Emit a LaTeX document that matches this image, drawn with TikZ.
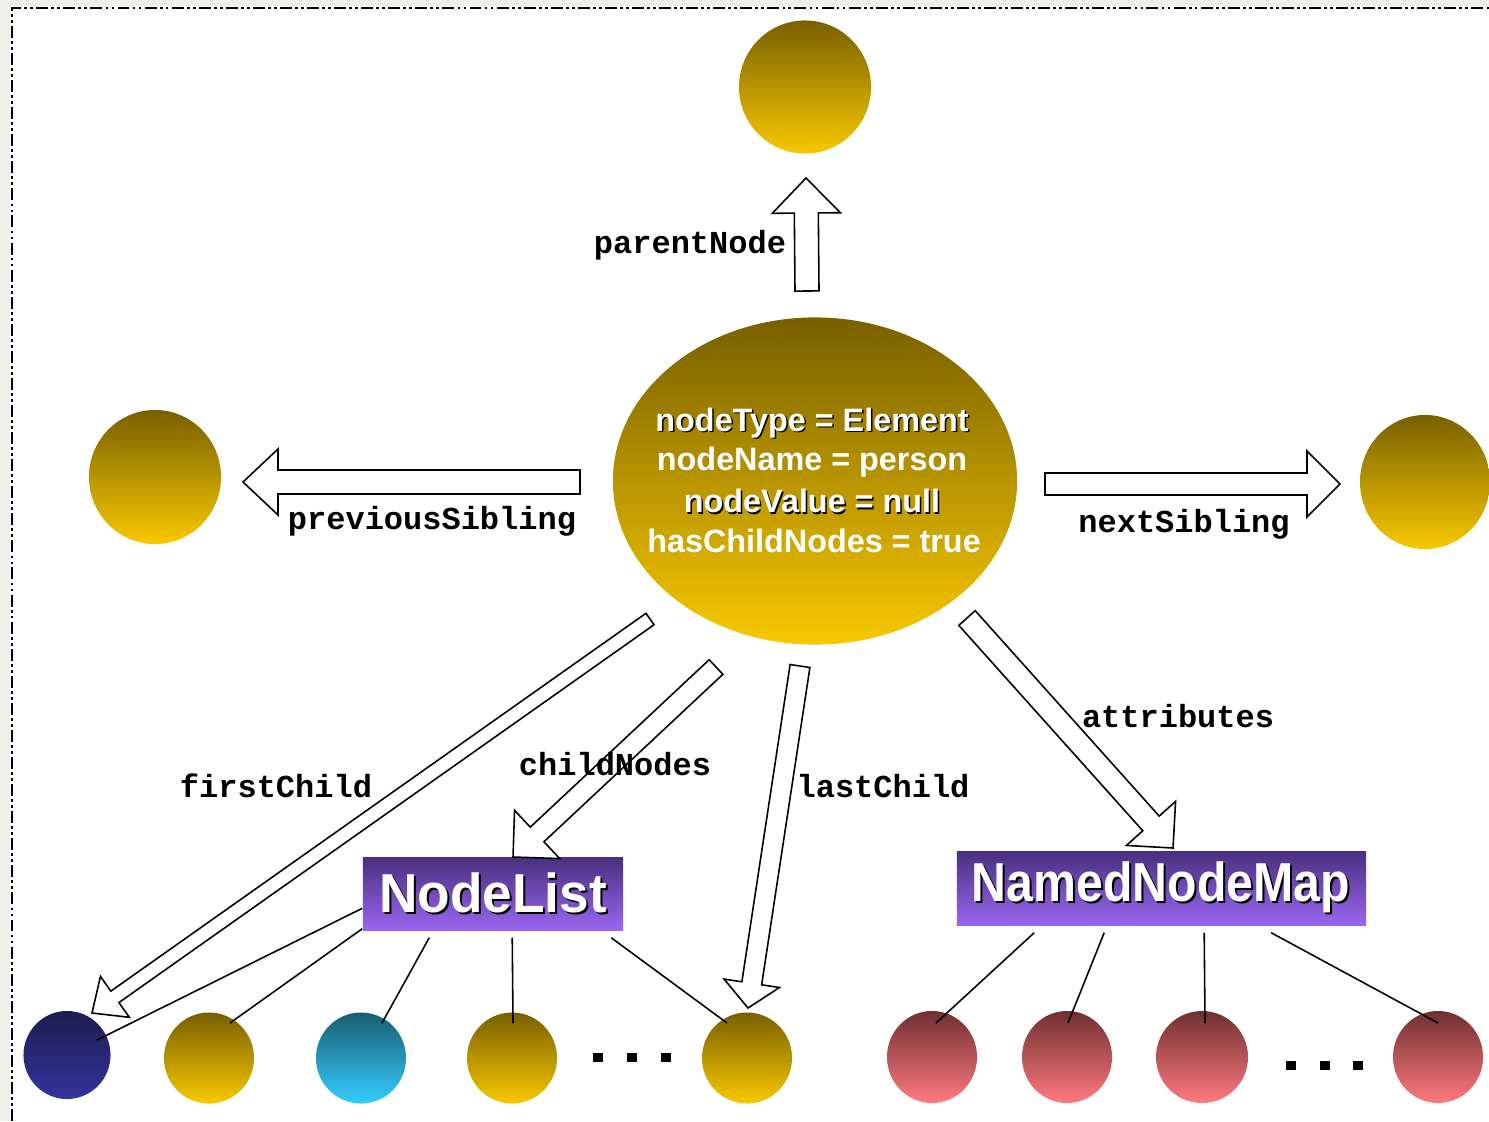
\documentclass[tikz,border=0pt]{standalone}
\usepackage{fontspec}
\setmainfont{Liberation Sans}
\newfontfamily\tagfont{Liberation Mono}
\usetikzlibrary{shapes.geometric,calc}

\definecolor{goldtop}{HTML}{786000}
\definecolor{goldbot}{HTML}{F8C800}
\definecolor{navytop}{HTML}{1C1C50}
\definecolor{navybot}{HTML}{34349C}
\definecolor{cyantop}{HTML}{1A5E72}
\definecolor{cyanbot}{HTML}{33CCFF}
\definecolor{rosetop}{HTML}{703030}
\definecolor{rosebot}{HTML}{FF7A80}
\definecolor{violettop}{HTML}{4A3080}
\definecolor{violetbot}{HTML}{9A66F0}
\definecolor{framegrey}{HTML}{EEF0EA}

% hollow block arrow: tail, tip, half shaft width, half head width, head length
\newcommand\hollowarrow[5]{%
  \coordinate (hb) at ($(#2)!#5!(#1)$);
  \draw[hollow] ($(#1)!#3!90:(#2)$) -- ($(hb)!#3!90:(#2)$) -- ($(hb)!#4!90:(#2)$)
    -- (#2) -- ($(hb)!#4!-90:(#2)$) -- ($(hb)!#3!-90:(#2)$) -- ($(#1)!#3!-90:(#2)$) -- cycle;
}

\begin{document}
\begin{tikzpicture}[x=0.01cm, y=-0.01cm,
  ball/.style={ellipse, inner sep=0pt, draw=none},
  gold/.style={ball, top color=goldtop, bottom color=goldbot},
  navy/.style={ball, top color=navytop, bottom color=navybot},
  teal/.style={ball, top color=cyantop, bottom color=cyanbot},
  rose/.style={ball, top color=rosetop, bottom color=rosebot},
  small/.style={minimum width=0.9cm, minimum height=0.91cm},
  big/.style={minimum width=1.32cm, minimum height=1.33cm},
  hollow/.style={draw=black, fill=white, line width=0.45pt, line join=miter},
  link/.style={draw=black, line width=0.45pt},
  tag/.style={font=\tagfont\bfseries\fontsize{9.1pt}{10pt}\selectfont, inner sep=0pt},
  info/.style={font=\bfseries\fontsize{9.2pt}{11pt}\selectfont, text=white, inner sep=0pt},
  infoshadow/.style={info, text=black},
  classbox/.style={rectangle, inner sep=0pt, top color=violettop, bottom color=violetbot},
  classtext/.style={font=\bfseries\fontsize{15.6pt}{16pt}\selectfont, text=white, inner sep=0pt},
  classshadow/.style={classtext, text=black},
  dotsq/.style={rectangle, fill=black, inner sep=0pt, minimum width=0.1cm, minimum height=0.09cm},
  border/.style={draw=black, line width=0.6pt,
    dash pattern=on 3.4pt off 0.9pt on 0.8pt off 0.9pt on 0.8pt off 0.9pt}
]
\useasboundingbox (0,0) rectangle (1489,1121);

% frame
\fill[framegrey] (0,0) rectangle (1489,6);
\fill[framegrey] (0,0) rectangle (10,1121);
\draw[border] (12,1121) -- (12,8) -- (1489,8);

% the element and its neighbours
\node[gold, big] (parent) at (805,87) {};
\node[gold, big, minimum height=1.34cm] (prev) at (155,477) {};
\node[gold, minimum width=1.30cm, minimum height=1.34cm] (next) at (1425,482) {};
\node[gold, minimum width=4.04cm, minimum height=3.27cm] (elem) at (815,481) {};

% children
\node[navy, minimum width=0.87cm, minimum height=0.88cm] (c1) at (67,1055) {};
\node[gold, small] (c2) at (209,1058) {};
\node[teal, small] (c3) at (361,1058) {};
\node[gold, small] (c4) at (512,1058) {};
\node[gold, small] (c6) at (747,1058) {};
\node[dotsq] (cd1) at (598,1057) {};
\node[dotsq] (cd2) at (632,1057) {};
\node[dotsq] (cd3) at (666,1057) {};

% attributes
\node[rose, small, minimum height=0.92cm] (a1) at (932,1057) {};
\node[rose, small, minimum height=0.92cm] (a2) at (1067,1057) {};
\node[rose, minimum width=0.92cm, minimum height=0.92cm] (a3) at (1202,1057) {};
\node[rose, small, minimum height=0.92cm] (a4) at (1438,1057) {};
\node[dotsq] (ad1) at (1291,1065) {};
\node[dotsq] (ad2) at (1325,1065) {};
\node[dotsq] (ad3) at (1358,1065) {};

% collection boxes
\node[classbox, minimum width=2.60cm, minimum height=0.72cm] (nodelist) at (493,894) {};
\node[classbox, minimum width=4.09cm, minimum height=0.73cm] (nnmap) at (1161.5,888.5) {};
\node[classshadow] (nodelistsh) at (495,895) {\scalebox{0.97}[1]{NodeList}};
\node[classtext] (nodelisttxt) at (493,893) {\scalebox{0.97}[1]{NodeList}};
\node[classshadow] (nnmapsh) at (1163,889) {\scalebox{0.88}[1]{NamedNodeMap}};
\node[classtext] (nnmaptxt) at (1161,887) {\scalebox{0.88}[1]{NamedNodeMap}};

% members of the lists
\draw[link] ($(nodelist.north west)+(0,51)$) -- ($(c1.center)+(30,-15)$);
\draw[link] ($(nodelist.south west)+(0,-2)$) -- ($(c2.center)+(21,-35)$);
\draw[link] ($(nodelist.south west)+(67,7)$) -- ($(c3.center)+(21,-35)$);
\draw[link] ($(nodelist.south west)+(150,7)$) -- ($(c4.center)+(1,-35)$);
\draw[link] ($(nodelist.south west)+(249,7)$) -- ($(c6.center)+(-20,-35)$);
\draw[link] ($(nnmap.south west)+(78,7)$) -- ($(a1.center)+(4,-34)$);
\draw[link] ($(nnmap.south west)+(148,7)$) -- ($(a2.center)+(1,-34)$);
\draw[link] ($(nnmap.south west)+(248,7)$) -- ($(a3.center)+(3,-34)$);
\draw[link] ($(nnmap.south west)+(315,7)$) -- ($(a4.center)+(0,-34)$);

% navigation arrows
\coordinate (pn-tail) at (807,291);   \coordinate (pn-tip) at (806,178);
\coordinate (ps-tail) at (580,482);   \coordinate (ps-tip) at (243,482);
\coordinate (ns-tail) at (1045,484);  \coordinate (ns-tip) at (1340,484);
\coordinate (fc-tail) at (650,619);   \coordinate (fc-tip) at (92,1013);
\coordinate (cn-tail) at (716,667);   \coordinate (cn-tip) at (513,857);
\coordinate (lc-tail) at (800,666);   \coordinate (lc-tip) at (748,1008);
\coordinate (at-tail) at (967,618);   \coordinate (at-tip) at (1173,848);

\hollowarrow{pn-tail}{pn-tip}{0.12cm}{0.34cm}{0.35cm}
\hollowarrow{ps-tail}{ps-tip}{0.12cm}{0.33cm}{0.35cm}
\hollowarrow{ns-tail}{ns-tip}{0.11cm}{0.33cm}{0.33cm}
\hollowarrow{fc-tail}{fc-tip}{0.07cm}{0.25cm}{0.28cm}
\hollowarrow{cn-tail}{cn-tip}{0.10cm}{0.33cm}{0.33cm}
\hollowarrow{lc-tail}{lc-tip}{0.10cm}{0.28cm}{0.25cm}
\hollowarrow{at-tail}{at-tip}{0.11cm}{0.33cm}{0.33cm}

% arrow labels
\node[tag] (pnlabel) at (690,245) {parentNode};
\node[tag] (pslabel) at (432,521) {previousSibling};
\node[tag] (nslabel) at (1184,524) {nextSibling};
\node[tag] (fclabel) at (276,786) {firstChild};
\node[tag] (cnlabel) at (615,764) {childNodes};
\node[tag] (lclabel) at (883,786) {lastChild};
\node[tag] (atlabel) at (1178,716) {attributes};

% properties of the element
\node[infoshadow] (info1s) at (813.5,424.5) {nodeType = Element};
\node[info] (info1) at (812,423) {nodeType = Element};
\node[info] (info2) at (812,462) {nodeName = person};
\node[infoshadow] (info3s) at (813.5,502.5) {nodeValue = null};
\node[info] (info3) at (812,501) {nodeValue = null};
\node[info] (info4) at (814,541) {hasChildNodes = true};
\end{tikzpicture}
\end{document}
